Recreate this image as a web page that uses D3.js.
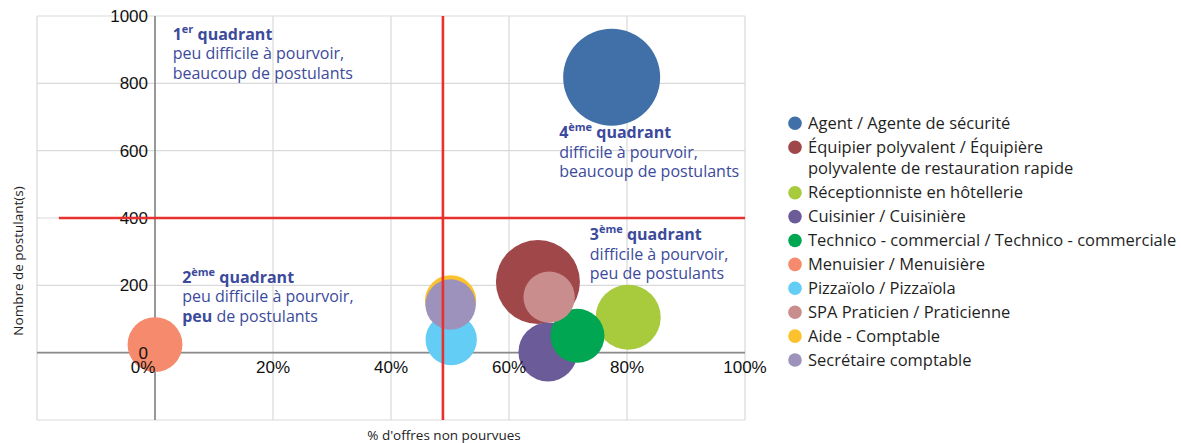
<!DOCTYPE html>
<html lang="fr">
<head>
    <meta charset="UTF-8"/>
    <title>Bubble chart – métiers</title>
    <script src="https://d3js.org/d3.v7.min.js" charset="utf-8"></script>
    <style type="text/css">
        body { margin: 0; background: #fff; }
        .tick-label { font-family: "Liberation Sans Narrow", "Liberation Sans", sans-serif; font-size: 17px; fill: #111; }
        .axis-title { font-family: "Open Sans", sans-serif; font-size: 13.5px; fill: #222; }
        .quad { font-family: "Open Sans", sans-serif; font-size: 16px; fill: #3c4a9c; }
        .legend text { font-family: "Open Sans", sans-serif; font-size: 16.5px; fill: #1f1f1f; }
        .grid line { stroke: #d9d9d9; stroke-width: 1.2px; }
    </style>
</head>
<body>
<div id="chart"></div>
<script type="text/javascript">

    // données
    var metiers = [
        "Agent / Agente de sécurité",
        "Équipier polyvalent / Équipière\npolyvalente de restauration rapide",
        "Réceptionniste en hôtellerie",
        "Cuisinier / Cuisinière",
        "Technico - commercial / Technico - commerciale",
        "Menuisier / Menuisière",
        "Pizzaïolo / Pizzaïola",
        "SPA Praticien / Praticienne",
        "Aide - Comptable",
        "Secrétaire comptable"
    ];
    var offresNonPourvues = [77.4, 64.9, 80.2, 66.6, 71.6, 0, 50.2, 66.8, 50.1, 50.1];
    var postulants = [818, 210, 105, 2, 50, 24, 39, 165, 154, 143];
    var tailles = [100, 75, 45, 37, 31, 32, 28, 28, 28, 27];
    var couleurs = ["#4170a8", "#a0474a", "#a7cb3c", "#6b5b98", "#00a651",
        "#f58a6c", "#63cdf5", "#c98d8e", "#fcc22d", "#9d92bc"];

    var xTicks = [-20, 0, 20, 40, 60, 80, 100];
    var yTicks = [-200, 0, 200, 400, 600, 800, 1000];
    var seuilX = 48.8, seuilY = 400;

    var width = 1181, height = 443;

    var svg = d3.select("#chart")
        .append("svg")
        .attr("width", width)
        .attr("height", height);

    var x = d3.scaleLinear().domain([-20, 100]).range([37, 745]);
    var y = d3.scaleLinear().domain([-200, 1000]).range([420, 16]);
    var r = d3.scaleSqrt().domain([0, 100]).range([0, 48.5]);

    // grille
    var grid = svg.append("g").attr("class", "grid");
    grid.selectAll("line.v")
        .data(xTicks)
        .enter()
        .append("line")
        .attr("x1", function(d) { return x(d); })
        .attr("x2", function(d) { return x(d); })
        .attr("y1", y(-200))
        .attr("y2", y(1000));
    grid.selectAll("line.h")
        .data(yTicks)
        .enter()
        .append("line")
        .attr("x1", x(-20))
        .attr("x2", x(100))
        .attr("y1", function(d) { return y(d); })
        .attr("y2", function(d) { return y(d); });

    // axes à zéro
    svg.append("line")
        .attr("x1", x(0)).attr("x2", x(0))
        .attr("y1", y(-200)).attr("y2", y(1000))
        .attr("stroke", "#8a8a8a").attr("stroke-width", 1.7);
    svg.append("line")
        .attr("x1", x(-20)).attr("x2", x(100))
        .attr("y1", y(0)).attr("y2", y(0))
        .attr("stroke", "#8a8a8a").attr("stroke-width", 1.7);

    // bulles
    var points = metiers.map(function(m, i) {
        return {nom: m, px: offresNonPourvues[i], py: postulants[i], t: tailles[i], c: couleurs[i]};
    });
    svg.selectAll("circle.bulle")
        .data(points)
        .enter()
        .append("circle")
        .attr("class", "bulle")
        .attr("cx", function(d) { return x(d.px); })
        .attr("cy", function(d) { return y(d.py); })
        .attr("r", function(d) { return r(d.t); })
        .style("fill", function(d) { return d.c; });

    // étiquettes des axes
    svg.selectAll("text.ytick")
        .data(yTicks.filter(function(d) { return d >= 0; }))
        .enter()
        .append("text")
        .attr("class", "tick-label")
        .attr("x", x(0) - 7)
        .attr("y", function(d) { return y(d); })
        .attr("dy", "0.36em")
        .attr("text-anchor", "end")
        .text(function(d) { return d; });
    svg.selectAll("text.xtick")
        .data(xTicks.filter(function(d) { return d >= 0; }))
        .enter()
        .append("text")
        .attr("class", "tick-label")
        .attr("x", function(d) { return x(d) - (d === 0 ? 12 : 0); })
        .attr("y", y(0) + 14)
        .attr("dy", "0.36em")
        .attr("text-anchor", "middle")
        .text(function(d) { return d + "%"; });

    svg.append("text")
        .attr("class", "axis-title")
        .attr("transform", "translate(23,261)rotate(-90)")
        .attr("text-anchor", "middle")
        .text("Nombre de postulant(s)");
    svg.append("text")
        .attr("class", "axis-title")
        .attr("x", 444)
        .attr("y", 440)
        .attr("text-anchor", "middle")
        .text("% d'offres non pourvues");

    // lignes de seuil
    svg.append("line")
        .attr("x1", x(seuilX)).attr("x2", x(seuilX))
        .attr("y1", y(-200)).attr("y2", y(1000))
        .attr("stroke", "#e8302e").attr("stroke-width", 2.6);
    svg.append("line")
        .attr("x1", x(-16.3)).attr("x2", x(100))
        .attr("y1", y(seuilY)).attr("y2", y(seuilY))
        .attr("stroke", "#e8302e").attr("stroke-width", 2.6);

    // quadrants
    var quadrants = [
        {n: "1", sup: "er", px: 3, py: 929, l2: [["peu difficile à pourvoir,", false]], l3: [["beaucoup de postulants", false]]},
        {n: "2", sup: "ème", px: 4.6, py: 207, l2: [["peu difficile à pourvoir,", false]], l3: [["peu", true], [" de postulants", false]]},
        {n: "3", sup: "ème", px: 73.7, py: 334, l2: [["difficile à pourvoir,", false]], l3: [["peu de postulants", false]]},
        {n: "4", sup: "ème", px: 68.5, py: 637, l2: [["difficile à pourvoir,", false]], l3: [["beaucoup de postulants", false]]}
    ];
    quadrants.forEach(function(q) {
        var g = svg.append("g").attr("class", "quad")
            .attr("transform", "translate(" + x(q.px) + "," + y(q.py) + ")");
        var t1 = g.append("text").attr("font-weight", "bold");
        t1.append("tspan").text(q.n);
        t1.append("tspan").attr("dy", -7).attr("font-size", "11px").text(q.sup);
        t1.append("tspan").attr("dy", 7).text(" quadrant");
        [q.l2, q.l3].forEach(function(parts, k) {
            var t = g.append("text").attr("y", 19.5 * (k + 1));
            parts.forEach(function(p) {
                t.append("tspan").attr("font-weight", p[1] ? "bold" : "normal").text(p[0]);
            });
        });
    });

    // légende
    var legend = svg.append("g").attr("class", "legend");
    var ly = 123.3;
    points.forEach(function(d) {
        var lignes = d.nom.split("\n");
        legend.append("circle")
            .attr("cx", 795).attr("cy", ly).attr("r", 6.8)
            .style("fill", d.c);
        lignes.forEach(function(l, k) {
            legend.append("text")
                .attr("x", 808)
                .attr("y", ly + k * 20.6)
                .attr("dy", "0.35em")
                .text(l);
        });
        ly += 23.9 + (lignes.length - 1) * 21.6;
    });

</script>
</body>
</html>
